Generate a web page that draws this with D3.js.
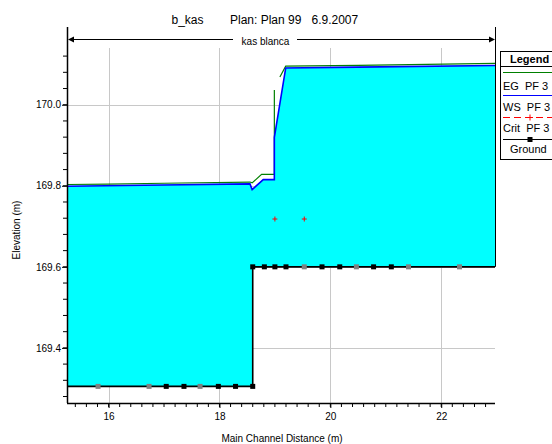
<!DOCTYPE html>
<html>
<head>
	<meta charset="UTF-8">
	<title>b_kas profile</title>
	<script src="https://d3js.org/d3.v7.min.js"></script>
	<style>
		body { margin: 0; background: #fff; overflow: hidden; }
		svg { display: block; }
		text { font-family: Arial, "Liberation Sans", sans-serif; fill: #000; }
		.grid { stroke: #c8c8c8; stroke-width: 1px; }
	</style>
</head>
<body>
	<script>
		// profile data
		var wsX = [15.25, 17.0, 18.55, 18.59, 18.79, 18.99, 18.99, 19.195, 20.5, 22.97];
		var wsY = [169.800, 169.803, 169.806, 169.792, 169.8165, 169.8165, 169.921, 170.092, 170.094, 170.098];

		// EG has a gap where the line is not drawn
		var egX = [15.25, 16.0, 17.0, 18.55, 18.59, 18.76, 18.99, 18.99, null, 19.09, 19.195, 20.5, 22.97];
		var egY = [169.802, 169.803, 169.805, 169.808, 169.806, 169.827, 169.827, 170.035, null, 170.067, 170.094, 170.096, 170.101];

		var groundX = [15.25, 18.60, 18.60, 22.97];
		var groundY = [169.305, 169.305, 169.6, 169.6];

		var gPtsX = [15.81, 16.73, 17.04, 17.36, 17.65, 17.98, 18.29, 18.60,
		             18.60, 18.81, 19.00, 19.20, 19.53, 19.85, 20.17, 20.47, 20.78, 21.10, 21.41, 22.33];
		var gPtsY = [169.305, 169.305, 169.305, 169.305, 169.305, 169.305, 169.305, 169.305,
		             169.6, 169.6, 169.6, 169.6, 169.6, 169.6, 169.6, 169.6, 169.6, 169.6, 169.6, 169.6];
		var gPtsGray = [1, 1, 0, 0, 1, 0, 0, 0,
		                0, 0, 0, 0, 1, 0, 0, 1, 0, 0, 1, 1];

		var critX = [19.0, 19.53];
		var critY = [169.718, 169.718];

		var xTicks = [16, 18, 20, 22];
		var yTicks = [169.4, 169.6, 169.8, 170.0];
		var legendItems = ["EG  PF 3", "WS  PF 3", "Crit  PF 3", "Ground"];

		var width = 552, height = 444;
		var plotLeft = 67, plotRight = 495, plotTop = 48, plotBottom = 403;

		var svg = d3.select("body").append("svg")
			.attr("width", width)
			.attr("height", height);

		var x = d3.scaleLinear().domain([15.25, 22.97]).range([plotLeft, plotRight]);
		var y = d3.scaleLinear().domain([169.264, 170.14]).range([plotBottom, plotTop]);

		// grid
		svg.selectAll(".gx").data(xTicks).enter().append("line")
			.attr("class", "grid")
			.attr("x1", function(d) { return Math.round(x(d)) + 0.5; })
			.attr("x2", function(d) { return Math.round(x(d)) + 0.5; })
			.attr("y1", plotTop).attr("y2", plotBottom);
		svg.selectAll(".gy").data(yTicks).enter().append("line")
			.attr("class", "grid")
			.attr("y1", function(d) { return Math.round(y(d)) + 0.5; })
			.attr("y2", function(d) { return Math.round(y(d)) + 0.5; })
			.attr("x1", plotLeft).attr("x2", plotRight);

		// water fill between WS and ground
		var wsPts = wsX.map(function(d, i) { return [d, wsY[i]]; });
		var gPts = groundX.map(function(d, i) { return [d, groundY[i]]; });
		var poly = wsPts.concat(gPts.slice().reverse());
		svg.append("path")
			.attr("d", d3.line().x(function(d) { return x(d[0]); }).y(function(d) { return y(d[1]); })(poly) + "Z")
			.attr("fill", "#00ffff")
			.attr("stroke", "none");

		// EG line
		var egPts = egX.map(function(d, i) { return [d, egY[i]]; });
		svg.append("path")
			.attr("d", d3.line()
				.defined(function(d) { return d[0] !== null; })
				.x(function(d) { return x(d[0]); })
				.y(function(d) { return y(d[1]) - 0.5; })(egPts))
			.attr("fill", "none")
			.attr("stroke", "#008000")
			.attr("stroke-width", 1.2);

		// WS line
		svg.append("path")
			.attr("d", d3.line().x(function(d) { return x(d[0]); }).y(function(d) { return y(d[1]) + 0.5; })(wsPts))
			.attr("fill", "none")
			.attr("stroke", "#0000ff")
			.attr("stroke-width", 1.6);

		// ground line
		svg.append("path")
			.attr("d", d3.line().x(function(d) { return x(d[0]); }).y(function(d) { return y(d[1]); })(gPts))
			.attr("fill", "none")
			.attr("stroke", "#000")
			.attr("stroke-width", 1.6);

		// ground points
		svg.selectAll(".gp").data(gPtsX).enter().append("rect")
			.attr("x", function(d) { return x(d) - 2.5; })
			.attr("y", function(d, i) { return y(gPtsY[i]) - 2.5; })
			.attr("width", 5).attr("height", 5)
			.attr("fill", function(d, i) { return gPtsGray[i] ? "#808080" : "#000"; });

		// crit markers
		critX.forEach(function(d, i) {
			var cx = x(d), cy = y(critY[i]);
			svg.append("path")
				.attr("d", "M" + (cx - 2.5) + "," + cy + "H" + (cx + 2.5) + "M" + cx + "," + (cy - 2.5) + "V" + (cy + 2.5))
				.attr("stroke", "#ff0000").attr("stroke-width", 1);
		});

		// right boundary line
		svg.append("line")
			.attr("x1", plotRight + 0.5).attr("x2", plotRight + 0.5)
			.attr("y1", 27).attr("y2", y(169.6))
			.attr("stroke", "#000").attr("stroke-width", 1);

		// axes
		var xAxis = d3.axisBottom(x).tickValues(xTicks).tickSize(5).tickFormat(d3.format("d"));
		var gx = svg.append("g").attr("transform", "translate(0," + plotBottom + ")").call(xAxis);
		var xMinor = d3.range(15.4, 22.97, 0.2);
		gx.selectAll(".minor").data(xMinor).enter().append("line")
			.attr("x1", function(d) { return x(d); }).attr("x2", function(d) { return x(d); })
			.attr("y1", 0).attr("y2", 4).attr("stroke", "#000");
		gx.select(".domain").attr("d", "M" + plotLeft + ",0.5H" + plotRight).attr("stroke-width", 1.5);

		var yAxis = d3.axisLeft(y).tickValues(yTicks).tickSize(5).tickFormat(d3.format(".1f"));
		var gy = svg.append("g").attr("transform", "translate(" + plotLeft + ",0)").call(yAxis);
		var yMinor = d3.range(169.28, 170.13, 0.04);
		gy.selectAll(".minor").data(yMinor).enter().append("line")
			.attr("y1", function(d) { return y(d); }).attr("y2", function(d) { return y(d); })
			.attr("x1", 0).attr("x2", -4).attr("stroke", "#000");
		gy.select(".domain").attr("d", "M0.5,27V" + plotBottom).attr("stroke-width", 1.5);

		svg.selectAll(".tick text").style("font-size", "10px");
		gx.selectAll(".tick text").attr("dy", "0.9em");
		gy.selectAll(".tick text").attr("x", -6);

		// axis titles
		svg.append("text")
			.attr("x", 282).attr("y", 442)
			.attr("text-anchor", "middle")
			.style("font-size", "10px")
			.text("Main Channel Distance (m)");
		svg.append("text")
			.attr("transform", "translate(20,230) rotate(-90)")
			.attr("text-anchor", "middle")
			.style("font-size", "10px")
			.text("Elevation (m)");

		// title
		var titleParts = [["b_kas", 171.5], ["Plan: Plan 99", 230], ["6.9.2007", 311.5]];
		titleParts.forEach(function(t) {
			svg.append("text")
				.attr("x", t[1]).attr("y", 24)
				.style("font-size", "12px")
				.text(t[0]);
		});

		// reach bracket
		var arrowY = 39.5;
		svg.append("line").attr("x1", plotLeft + 2).attr("x2", 233).attr("y1", arrowY).attr("y2", arrowY)
			.attr("stroke", "#000").attr("stroke-width", 1);
		svg.append("line").attr("x1", 297).attr("x2", plotRight - 2).attr("y1", arrowY).attr("y2", arrowY)
			.attr("stroke", "#000").attr("stroke-width", 1);
		svg.append("path")
			.attr("d", "M" + (plotLeft + 1) + "," + arrowY + "l6,-3v6z")
			.attr("fill", "#000");
		svg.append("path")
			.attr("d", "M" + plotRight + "," + arrowY + "l-6,-3v6z")
			.attr("fill", "#000");
		svg.append("text")
			.attr("x", 265.5).attr("y", 45)
			.attr("text-anchor", "middle")
			.style("font-size", "10px")
			.text("kas blanca");

		// legend (runs off the right edge, as in the original)
		var lg = svg.append("g");
		lg.append("rect")
			.attr("x", 500.5).attr("y", 51.5)
			.attr("width", 120).attr("height", 108)
			.attr("fill", "#fff").attr("stroke", "#000");
		lg.append("line")
			.attr("x1", 500.5).attr("x2", 600).attr("y1", 66.5).attr("y2", 66.5)
			.attr("stroke", "#000");
		lg.append("text")
			.attr("x", 510).attr("y", 63)
			.style("font-size", "11px").style("font-weight", "bold")
			.text("Legend");

		var lineYs = [72.5, 95.5, 117.5, 139.5];
		var textYs = [89.5, 110.5, 132, 153];
		var textXs = [503, 503, 503, 510];
		var lineColors = ["#008000", "#0000ff", "#ff0000", "#000"];
		lg.selectAll(".ll").data(legendItems).enter().append("line")
			.attr("x1", 503).attr("x2", 600)
			.attr("y1", function(d, i) { return lineYs[i]; })
			.attr("y2", function(d, i) { return lineYs[i]; })
			.attr("stroke", function(d, i) { return lineColors[i]; })
			.attr("stroke-width", function(d, i) { return i === 2 ? 1 : 1.2; })
			.attr("stroke-dasharray", function(d, i) { return i === 2 ? "7,4" : null; });
		lg.selectAll(".lt").data(legendItems).enter().append("text")
			.attr("x", function(d, i) { return textXs[i]; })
			.attr("y", function(d, i) { return textYs[i]; })
			.attr("xml:space", "preserve")
			.style("white-space", "pre")
			.style("font-size", "11px")
			.text(function(d) { return d; });
		lg.append("path")
			.attr("d", "M527," + lineYs[2] + "h6M530," + (lineYs[2] - 3) + "v6")
			.attr("stroke", "#ff0000");
		lg.append("rect")
			.attr("x", 527.5).attr("y", lineYs[3] - 2.5)
			.attr("width", 5).attr("height", 5)
			.attr("fill", "#000");
	</script>
</body>
</html>
